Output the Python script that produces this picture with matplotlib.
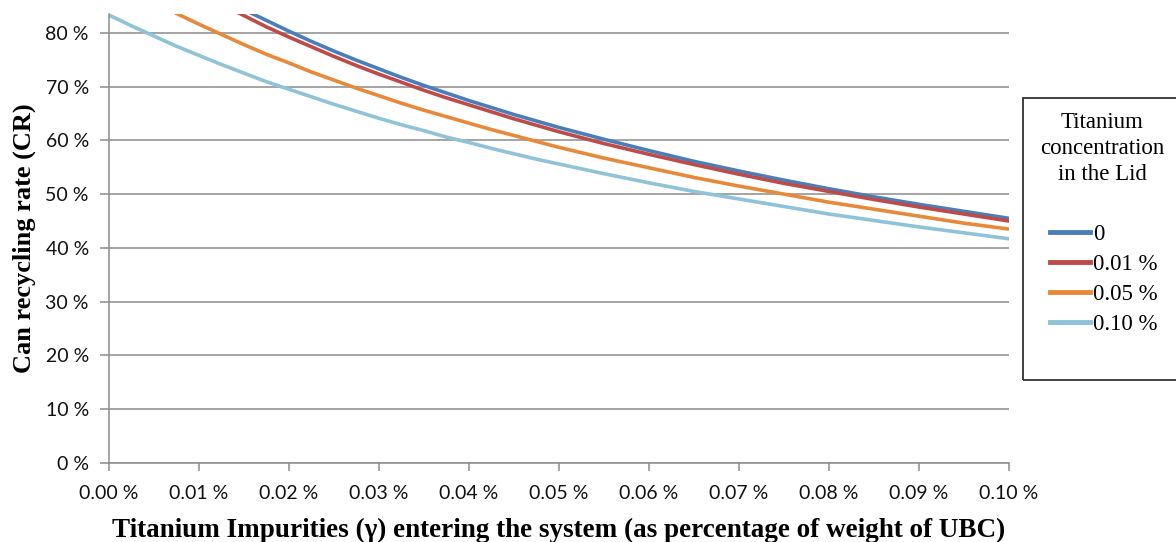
import matplotlib
matplotlib.use("Agg")
import matplotlib.pyplot as plt
from matplotlib.ticker import FuncFormatter, MultipleLocator
from matplotlib.patches import Rectangle

plt.rcParams['font.family'] = ['Liberation Serif', 'DejaVu Serif']

# Titanium impurities (in %, of UBC weight)
gamma = [0.0, 0.0025, 0.005, 0.0075, 0.01, 0.0125, 0.015, 0.0175, 0.02, 0.0225,
         0.025, 0.0275, 0.03, 0.0325, 0.035, 0.0375, 0.04, 0.0425, 0.045, 0.0475,
         0.05, 0.055, 0.06, 0.065, 0.07, 0.075, 0.08, 0.085, 0.09, 0.095, 0.10]

# Can recycling rate (%) for each Ti concentration in the lid
cr_0 = [99.3, 96.4, 93.8, 91.2, 88.8, 86.5, 84.3, 82.3, 80.3, 78.4,
        76.6, 74.9, 73.3, 71.7, 70.2, 68.8, 67.4, 66.1, 64.8, 63.6,
        62.4, 60.2, 58.1, 56.1, 54.3, 52.6, 51.0, 49.5, 48.1, 46.8, 45.5]
cr_001 = [97.8, 95.0, 92.4, 89.9, 87.5, 85.3, 83.2, 81.1, 79.2, 77.4,
          75.6, 73.9, 72.3, 70.8, 69.3, 67.9, 66.6, 65.3, 64.0, 62.8,
          61.6, 59.4, 57.4, 55.5, 53.7, 52.0, 50.5, 49.0, 47.6, 46.3, 45.0]
cr_005 = [90.4, 88.0, 85.8, 83.6, 81.6, 79.7, 77.8, 76.0, 74.4, 72.7,
          71.2, 69.7, 68.3, 66.9, 65.6, 64.4, 63.2, 62.0, 60.9, 59.8,
          58.7, 56.7, 54.9, 53.1, 51.5, 50.0, 48.5, 47.2, 45.9, 44.6, 43.5]
cr_010 = [83.3, 81.3, 79.4, 77.5, 75.8, 74.1, 72.5, 70.9, 69.5, 68.1,
          66.7, 65.4, 64.1, 62.9, 61.8, 60.6, 59.6, 58.5, 57.5, 56.5,
          55.6, 53.8, 52.1, 50.5, 49.1, 47.7, 46.3, 45.1, 43.9, 42.8, 41.7]

series_labels = ["0", "0.01 %", "0.05 %", "0.10 %"]
series_values = [cr_0, cr_001, cr_005, cr_010]
colors = ["#4A7EBB", "#BE4B48", "#E8893A", "#8EC3D8"]
legend_title = ["Titanium", "concentration", "in the Lid"]

W, H = 1176, 542
fig = plt.figure(figsize=(W/100, H/100), dpi=100)
ax = fig.add_axes([109/W, 1-463/H, 900/W, (463-14)/H])

for lab, vals, c in zip(series_labels, series_values, colors):
    ax.plot(gamma, vals, color=c, lw=2.6, label=lab, solid_joinstyle='round')

ax.set_xlim(0, 0.10)
ax.set_ylim(0, 83.5)
ax.xaxis.set_major_locator(MultipleLocator(0.01))
ax.yaxis.set_major_locator(MultipleLocator(10))
ax.xaxis.set_major_formatter(FuncFormatter(lambda v, p: f"{v:.2f} %"))
ax.yaxis.set_major_formatter(FuncFormatter(lambda v, p: f"{v:.0f} %"))

ax.grid(axis='y', color='#8C8C8C', lw=1.1)
ax.set_axisbelow(True)
for s in ['top', 'right']:
    ax.spines[s].set_visible(False)
for s in ['left', 'bottom']:
    ax.spines[s].set_color('#8C8C8C')
    ax.spines[s].set_linewidth(1.1)
ax.tick_params(axis='both', colors='#8C8C8C', labelcolor='#111111', labelsize=14,
               width=1.1, direction='out')
ax.tick_params(axis='x', length=5.5, pad=10)
ax.tick_params(axis='y', length=6.5, pad=8)
for lbl in ax.get_xticklabels() + ax.get_yticklabels():
    lbl.set_fontfamily(['Lato', 'DejaVu Sans'])

ax.set_xlabel("Titanium Impurities (γ) entering the system (as percentage of weight of UBC)",
              fontsize=19.5, fontweight='bold', labelpad=12)
ax.set_ylabel("Can recycling rate (CR)", fontsize=19, fontweight='bold', labelpad=7)

# legend frame
fig.patches.append(Rectangle((1023/W, 1-380/H), 160/W, (380-98)/H,
                             transform=fig.transFigure, fill=False,
                             edgecolor='#333333', lw=1.3, zorder=5))
for t, yy in zip(legend_title, [122, 148, 175]):
    fig.text(1102/W, 1-yy/H, t, ha='center', va='center', fontsize=16.5)

leg = ax.legend(loc='upper left', bbox_to_anchor=(1050/W, 1-(233-9)/H),
                bbox_transform=fig.transFigure, frameon=False,
                fontsize=16.5, handlelength=1.75, handletextpad=0.14,
                borderpad=0, borderaxespad=0, labelspacing=0.39)
for line in leg.get_lines():
    line.set_linewidth(3.5)

fig.savefig("out.png", dpi=100)
